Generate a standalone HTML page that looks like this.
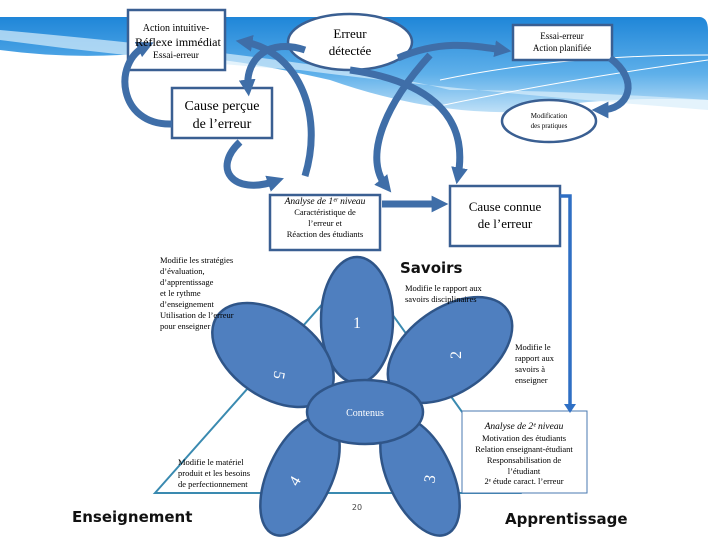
<!DOCTYPE html>
<html><head><meta charset="utf-8"><style>
html,body{margin:0;padding:0;background:#fff}
svg{display:block}
text{font-family:"Liberation Serif",serif}
.s{font-family:"DejaVu Sans","Liberation Sans",sans-serif}
</style></head><body>
<svg width="720" height="540" viewBox="0 0 720 540" xmlns="http://www.w3.org/2000/svg">
<defs>
<linearGradient id="bg" x1="0" y1="0" x2="0" y2="1">
<stop offset="0" stop-color="#1f86d8"/><stop offset="0.6" stop-color="#5fb0ea"/><stop offset="1" stop-color="#bfe0f7"/>
</linearGradient>
<marker id="ah" viewBox="0 0 10 10" refX="5" refY="5" markerWidth="2.4" markerHeight="2.4" orient="auto">
<path d="M0,0 L10,5 L0,10 z" fill="#3f6ea8"/></marker>
</defs>
<path d="M0,17 L700,17 Q708,18 708,30 L708,100 Q600,95 520,112 Q430,115 330,80 Q200,50 120,55 Q60,58 0,50 Z" fill="url(#bg)"/>
<path d="M0,40 Q150,60 300,70 Q450,90 708,110 L708,100 Q560,90 450,90 Q330,60 0,30Z" fill="#d9eefb" opacity="0.7"/>
<path d="M440,80 Q560,55 708,55" stroke="#fff" stroke-width="1" fill="none"/>
<path d="M420,110 Q560,80 708,60" stroke="#fff" stroke-width="1" fill="none"/>
<path d="M155,493 L357,265 L520,493 Z" fill="none" stroke="#3a8ab0" stroke-width="2"/>
<g fill="#4f7fbf" stroke="#2f5588" stroke-width="2.5">
<ellipse cx="357" cy="320" rx="36" ry="63"/>
<ellipse cx="450" cy="350" rx="70" ry="42" transform="rotate(-35 450 350)"/>
<ellipse cx="273" cy="355" rx="68" ry="42" transform="rotate(35 273 355)"/>
<ellipse cx="300" cy="476" rx="32" ry="64" transform="rotate(25 300 476)"/>
<ellipse cx="420" cy="476" rx="32" ry="64" transform="rotate(-25 420 476)"/>
<ellipse cx="365" cy="412" rx="58" ry="32"/>
</g>
<g fill="#fff" font-size="16">
<text x="357" y="328" text-anchor="middle">1</text>
<text x="456" y="360" text-anchor="middle" transform="rotate(-90 456 355)">2</text>
<text x="279" y="380" text-anchor="middle" transform="rotate(100 279 375)">5</text>
<text x="295" y="486" text-anchor="middle" transform="rotate(-60 295 481)">4</text>
<text x="430" y="484" text-anchor="middle" transform="rotate(-80 430 479)">3</text>
<text x="365" y="416" text-anchor="middle" font-size="10">Contenus</text>
</g>
<g fill="#fff" stroke="#3a5f92" stroke-width="2.5">
<rect x="128" y="10" width="97" height="60"/>
<ellipse cx="350" cy="42" rx="62" ry="28"/>
<rect x="513" y="25" width="99" height="35"/>
<rect x="172" y="88" width="100" height="50"/>
<ellipse cx="549" cy="121" rx="47" ry="21"/>
<rect x="270" y="195" width="110" height="55"/>
<rect x="450" y="186" width="110" height="60"/>
</g>
<rect x="462" y="411" width="125" height="82" fill="#fff" stroke="#4a7ab0" stroke-width="1"/>
<path d="M560,196 L570,196 L570,405" fill="none" stroke="#2f6fc4" stroke-width="3.5"/>
<path d="M564,404 L576,404 L570,413 Z" fill="#2f6fc4"/>
<g fill="none" stroke="#3f6ea8" stroke-width="7" stroke-linecap="butt" marker-end="url(#ah)">
<path d="M172,124 C118,126 112,62 146,46"/>
<path d="M305,50 C270,38 245,58 248,88"/>
<path d="M305,176 C325,110 295,50 244,42"/>
<path d="M240,142 C212,168 232,196 276,181"/>
<path d="M398,58 C440,40 470,45 503,50"/>
<path d="M350,70 C420,80 470,110 458,176"/>
<path d="M430,55 C380,110 365,160 386,186"/>
<path d="M610,58 C640,80 630,110 600,110"/>
<path d="M382,204 L440,204"/>
</g>
<g text-anchor="middle" fill="#000">
<text x="176" y="31" font-size="10">Action intuitive-</text>
<text x="178" y="46" font-size="12">Réflexe  immédiat</text>
<text x="176" y="58" font-size="9.5">Essai-erreur</text>
<text x="350" y="38" font-size="13">Erreur</text>
<text x="350" y="55" font-size="13">détectée</text>
<text x="562" y="39" font-size="9">Essai-erreur</text>
<text x="562" y="51" font-size="9">Action planifiée</text>
<text x="222" y="110" font-size="14">Cause perçue</text>
<text x="222" y="128" font-size="14">de l’erreur</text>
<text x="549" y="118" font-size="7">Modification</text>
<text x="549" y="128" font-size="7">des pratiques</text>
<text x="325" y="204" font-size="9.5" font-style="italic">Analyse de 1ᵉʳ niveau</text>
<text x="325" y="215" font-size="8.5">Caractéristique de</text>
<text x="325" y="226" font-size="8.5">l’erreur et</text>
<text x="325" y="237" font-size="8.5">Réaction des étudiants</text>
<text x="505" y="211" font-size="13">Cause connue</text>
<text x="505" y="228" font-size="13">de l’erreur</text>
<text x="524" y="429" font-size="9.5" font-style="italic">Analyse de 2ᵉ niveau</text>
<text x="524" y="441" font-size="8.5">Motivation des étudiants</text>
<text x="524" y="452" font-size="8.5">Relation enseignant-étudiant</text>
<text x="524" y="463" font-size="8.5">Responsabilisation de</text>
<text x="524" y="474" font-size="8.5">l’étudiant</text>
<text x="524" y="484" font-size="8.5">2ᵉ étude caract. l’erreur</text>
</g>
<g font-size="8.5" fill="#000">
<text x="160" y="263">Modifie les stratégies</text>
<text x="160" y="274">d’évaluation,</text>
<text x="160" y="285">d’apprentissage</text>
<text x="160" y="296">et le rythme</text>
<text x="160" y="307">d’enseignement</text>
<text x="160" y="318">Utilisation de l’erreur</text>
<text x="160" y="329">pour enseigner</text>
<text x="405" y="291">Modifie le rapport aux</text>
<text x="405" y="302">savoirs disciplinaires</text>
<text x="515" y="350">Modifie le</text>
<text x="515" y="361">rapport aux</text>
<text x="515" y="372">savoirs à</text>
<text x="515" y="383">enseigner</text>
<text x="178" y="465">Modifie le matériel</text>
<text x="178" y="476">produit et les besoins</text>
<text x="178" y="487">de perfectionnement</text>
</g>
<g font-weight="bold" fill="#111">
<text x="400" y="273" font-size="15" class="s">Savoirs</text>
<text x="72" y="522" font-size="15" class="s">Enseignement</text>
<text x="505" y="524" font-size="15" class="s">Apprentissage</text>
</g>
<text x="357" y="510" font-size="8" class="s" text-anchor="middle" fill="#444">20</text>
</svg>
</body></html>
